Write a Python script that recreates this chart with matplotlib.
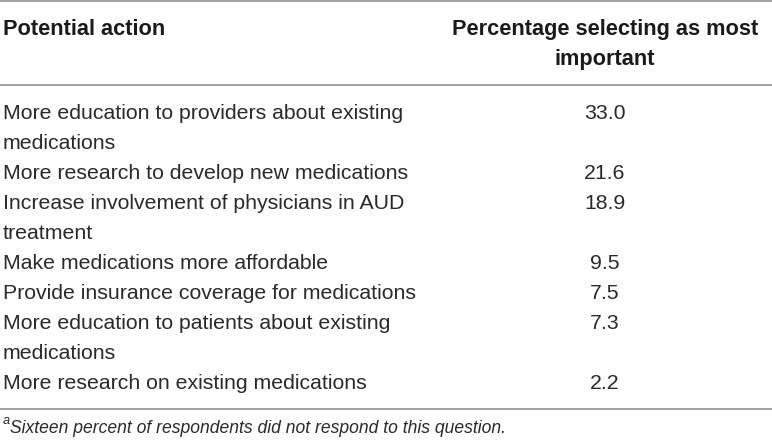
import matplotlib
matplotlib.use("Agg")
import matplotlib.pyplot as plt

plt.rcParams['font.family'] = ['Liberation Sans', 'DejaVu Sans']

# table content
header_action = "Potential action"
header_pct = "Percentage selecting as most\nimportant"
actions = [
    "More education to providers about existing\nmedications",
    "More research to develop new medications",
    "Increase involvement of physicians in AUD\ntreatment",
    "Make medications more affordable",
    "Provide insurance coverage for medications",
    "More education to patients about existing\nmedications",
    "More research on existing medications",
]
percentages = [33.0, 21.6, 18.9, 9.5, 7.5, 7.3, 2.2]
footnote_mark = "a"
footnote = "Sixteen percent of respondents did not respond to this question."

W, H = 772, 443
fig = plt.figure(figsize=(W / 100, H / 100), dpi=100)
ax = fig.add_axes([0, 0, 1, 0.999])
ax.set_xlim(0, W)
ax.set_ylim(H, 0)
ax.axis('off')

txt = '#2a2a2a'
rule = '#999999'
fs = 15.3
fs_head = 15.7
line_h = 30
x_left = 3
x_num = 605

# rules
for y in (1, 85, 409):
    ax.plot([0, W], [y, y], color=rule, lw=1.3, solid_capstyle='butt')

# header
ax.text(x_left, 29, header_action, fontsize=fs_head, fontweight='bold', color='#1a1a1a',
        va='center', ha='left')
for i, part in enumerate(header_pct.split("\n")):
    ax.text(x_num, 29 + i * line_h, part, fontsize=fs_head, fontweight='bold',
            color='#1a1a1a', va='center', ha='center')

# body rows
y = 113
for act, pct in zip(actions, percentages):
    lines = act.split("\n")
    ax.text(x_num, y, "{:.1f}".format(pct), fontsize=fs, color=txt,
            va='center', ha='center')
    for part in lines:
        ax.text(x_left, y, part, fontsize=fs, color=txt, va='center', ha='left')
        y += line_h

# footnote
ax.text(x_left, 421, footnote_mark, fontsize=fs * 0.6, style='italic',
        color=txt, va='center', ha='left')
ax.text(x_left + 7, 428, footnote, fontsize=fs * 0.825, style='italic',
        color=txt, va='center', ha='left')

fig.savefig('out.png', dpi=100)
